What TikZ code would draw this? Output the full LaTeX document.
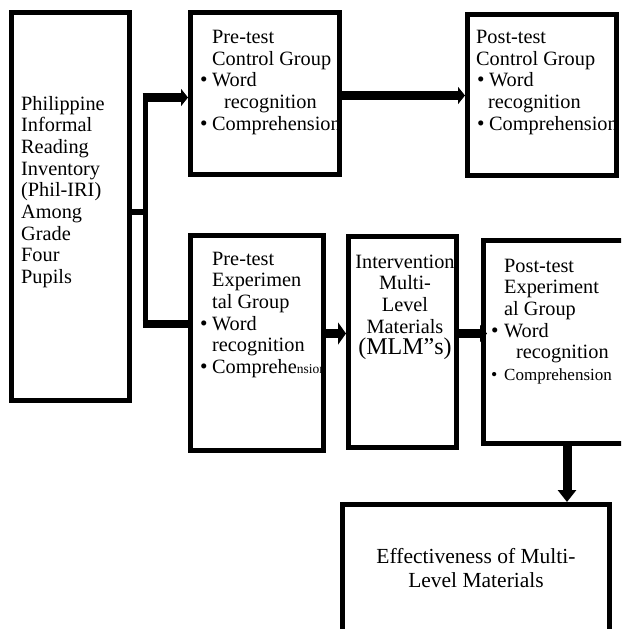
\documentclass[tikz,border=0pt]{standalone}
\usepackage{fontspec}
\setmainfont{Liberation Serif}
\usetikzlibrary{arrows.meta}
\newcommand{\bul}{\makebox[12pt][l]{\raisebox{0pt}{\scalebox{1.05}{\textbullet}}}}
\newcommand{\tblock}[2]{\parbox[t]{#1}{\lineskiplimit=-20pt\raggedright\fontsize{20.3}{21.7}\selectfont #2}}
\begin{document}
\begin{tikzpicture}[x=1pt,y=-1pt,
  box/.style={draw, line width=5pt, inner sep=0pt, fill=none},
  txt/.style={anchor=base west, inner sep=0pt},
  conn/.style={line width=8.5pt, -{Triangle[length=7pt,width=17pt]}},
  plain/.style={line width=8.5pt}]
\useasboundingbox (0,0) rectangle (621,629);
\clip (0,0) rectangle (621,629);
% boxes
\node[box, minimum width=118pt, minimum height=388pt] (b1) at (70.5,206.5) {};
\node[box, minimum width=149pt, minimum height=162pt] (b2) at (265,93.5) {};
\node[box, minimum width=149pt, minimum height=161pt] (b3) at (542,95) {};
\node[box, minimum width=133pt, minimum height=215pt] (b4) at (257,343) {};
\node[box, minimum width=108pt, minimum height=211pt] (b5) at (402.5,342) {};
\node[box, minimum width=146.5pt, minimum height=203pt] (b6) at (556.75,342) {};
\node[box, minimum width=267pt, minimum height=145.5pt] (b7) at (476,577.25) {};
% texts
\node[txt] (t1) at (21,110) {\tblock{105pt}{Philippine\\Informal\\Reading\\Inventory\\(Phil-IRI)\\Among\\Grade\\Four\\Pupils}};
\node[txt] (t2) at (200,43.5) {\tblock{145pt}{\hspace*{12pt}Pre-test\\\hspace*{12pt}Control Group\\\bul Word\\\hspace*{24pt}recognition\\\bul Comprehension}};
\node[txt] (t3) at (476,43.5) {\tblock{145pt}{Post-test\\Control Group\\\hspace*{1pt}\bul Word\\\hspace*{12pt}recognition\\\hspace*{1pt}\bul Comprehension}};
\node[txt] (t4) at (200,265) {\tblock{145pt}{\hspace*{12pt}Pre-test\\\hspace*{12pt}Experimen\\\hspace*{12pt}tal Group\\\bul Word\\\hspace*{12pt}recognition\\\bul Comprehe{\fontsize{13.5}{21.7}\selectfont nsion}}};
\node[anchor=base, inner sep=0pt] (t5) at (405,268) {\parbox[t]{120pt}{\lineskiplimit=-20pt\centering\fontsize{20.3}{21.7}\selectfont Intervention\\Multi-\\Level\\Materials\\{\fontsize{24}{21.7}\selectfont (MLM”s)}}};
\node[txt] (t6) at (491,272) {\tblock{145pt}{\hspace*{13pt}Post-test\\\hspace*{13pt}Experiment\\\hspace*{13pt}al Group\\\bul\hspace*{1pt}Word\\\hspace*{25pt}recognition\\{\fontsize{17}{21.7}\selectfont\bul\hspace*{1pt}Comprehension}}};
\node[anchor=base, inner sep=0pt] (t7) at (476,563) {\parbox[t]{260pt}{\centering\fontsize{21.5}{24}\selectfont Effectiveness of Multi-\\Level Materials}};
% connectors
\coordinate (j) at (145,211.5);
\coordinate (jt) at (145,97.5);
\coordinate (jb) at (145,324);
\coordinate (ya) at (0,95.5);
\coordinate (yb) at (0,333.5);
\coordinate (dx) at (567,0);
\draw[line width=6pt] (b1.east |- j) -- (j);
\draw[line width=5pt] ([yshift=4pt]jt) -- ([yshift=-4pt]jb);
\draw[conn] ([xshift=-2.5pt]jt) -- (b2.west |- jt);
\draw[plain] ([xshift=-2.5pt]jb) -- (b4.west |- jb);
\draw[conn] (b2.east |- ya) -- (b3.west |- ya);
\draw[conn, -{Triangle[length=8pt,width=22pt]}] (b4.east |- yb) -- (b5.west |- yb);
\draw[conn, shorten >=-6pt] (b5.east |- yb) -- (b6.west |- yb);
\draw[line width=9pt, -{Triangle[length=12pt,width=18pt]}] (b6.south -| dx) -- (b7.north -| dx);
\end{tikzpicture}
\end{document}
